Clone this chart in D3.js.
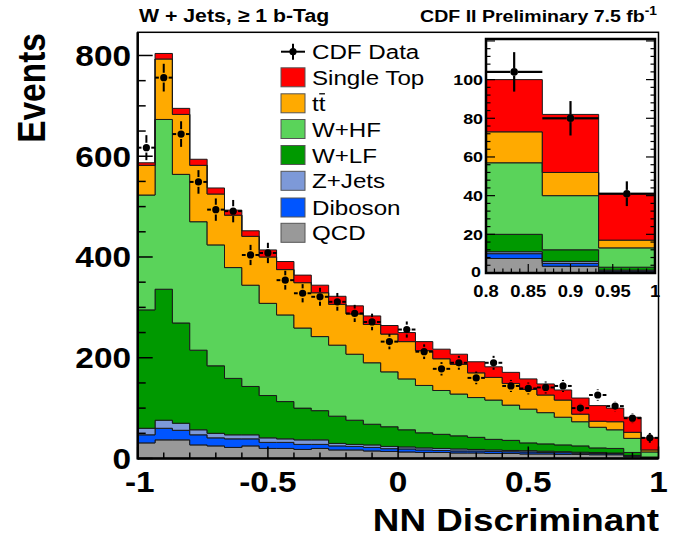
<!DOCTYPE html>
<html><head><meta charset="utf-8">
<script src="https://cdn.jsdelivr.net/npm/d3@7"></script>
<style>
body{margin:0;background:#fff}
svg{display:block}
text{font-family:"Liberation Sans",Arial,Helvetica,sans-serif;fill:#000}
</style>
</head><body>
<svg id="c" width="677" height="545"></svg>
<script>
// ---------------- data (events per bin, 30 bins from -1 to 1) ----------------
const qcd       = [31,37,37,27,25,22,25,20,20,18,20,17,17,15,14,13,12,12,11,11,10,10,9,9,8,8,7.5,7.5,3.5,0.5];
const diboson   = [16,23,19,20,16,17,14,12,12,10,8,8,7,7,5.5,6,5,4,4,4,4,3.5,4,3,3.5,2.5,2.5,2.5,1.5,0.5];
const zjets     = [13,16,14,10,9,8,8,9,7,9,9,5,4,5,4.5,4,4,4,4,3,3,2.5,2.5,2.5,2,2,2,1,1,0.5];
const wlf       = [235,260,199,158,134,112,96,84,74,63,58,54,48,41,39,34,30,28,26,24,21,20,15.5,14.5,13.5,12.5,9,9,6,1.5];
const whf       = [228,337,295,255,240,220,201,183,172,159,147,141,131,122,109,101,94,87,83,79,78,70,67,62,55,48,41,37,28,10];
const ttbar     = [59,120,119,112,101,104,97,92,90,90,87,81,80,76,75,74,69,63,59,49,45,43,39,35,34,15,12,16,12,4];
const singleTop = [5,11,12,12,12,10,11,14,16,15,15,16,16,17,17,18,18,19,20,22,21,22,21,22,20,32,31,27,30,24];
const dataCounts = [617,756,644,549,494,491,404,408,354,328,321,311,288,271,232,256,212,178,190,160,190,144,139,141,144,100,126,104,80,41];
const dataErrors = [24.8,27.5,25.4,23.4,22.2,22.2,20.1,20.2,18.8,18.1,17.9,17.6,17,16.5,15.2,16,14.6,13.3,13.8,12.6,13.8,12,11.8,11.9,12,10,11.2,10.2,8.9,6.4];

const legendLabels = ["CDF Data","Single Top","tt","W+HF","W+LF","Z+Jets","Diboson","QCD"];
const xTicksMain  = [-1,-0.5,0,0.5,1];
const xTickLabelsMain = ["-1","-0.5","0","0.5","1"];
const yTicksMain  = [0,200,400,600,800];
const xTicksInset = [0.8,0.85,0.9,0.95,1];
const xTickLabelsInset = ["0.8","0.85","0.9","0.95","1"];
const yTicksInset = [0,20,40,60,80,100];

// ---------------- setup ----------------
const svg = d3.select("#c");
const SX = 1.15; // horizontal text stretch
const keys = ["qcd","diboson","zjets","wlf","whf","ttbar","singleTop"];
const colors = {qcd:"#999999",diboson:"#0055ff",zjets:"#7d99d8",wlf:"#009900",whf:"#5ad35a",ttbar:"#ffaa00",singleTop:"#ff0000"};
const series = {qcd,diboson,zjets,wlf,whf,ttbar,singleTop};
const nBins = qcd.length, binW = 2/nBins;
const binLo = d3.range(nBins).map(i => -1 + i*binW);
const rows = binLo.map((lo,i) => { const r = {lo}; keys.forEach(k => r[k] = series[k][i]); return r; });
const stacked = d3.stack().keys(keys)(rows);

svg.append("rect").attr("width",677).attr("height",545).attr("fill","#fff");

function txt(g, x, y, s, size, anchor, weight, rot) {
  const t = g.append("text")
    .attr("transform", `translate(${x},${y}) scale(${SX},1)` + (rot ? ` rotate(${rot})` : ""))
    .attr("text-anchor", anchor).attr("font-size", size).attr("font-weight", weight).text(s);
  return t;
}

function drawStack(g, xs, ys, idxs) {
  stacked.forEach(layer => {
    const pts = idxs.map(i => ({x: binLo[i], y0: layer[i][0], y1: layer[i][1]}));
    const last = idxs[idxs.length-1];
    pts.push({x: binLo[last] + binW, y0: layer[last][0], y1: layer[last][1]});
    const area = d3.area().curve(d3.curveStepAfter)
      .x(d => xs(d.x)).y0(d => ys(d.y0)).y1(d => ys(d.y1));
    g.append("path").attr("d", area(pts)).attr("fill", colors[layer.key])
      .attr("stroke", "#1a1a1a").attr("stroke-width", 1);
  });
}

function drawData(g, xs, ys, idxs, r, gap, sw) {
  idxs.forEach(i => {
    const cx = xs(binLo[i] + binW/2), cy = ys(dataCounts[i]);
    const xl = xs(binLo[i]), xr = xs(binLo[i] + binW);
    const yt = ys(dataCounts[i] + dataErrors[i]), yb = ys(dataCounts[i] - dataErrors[i]);
    const segs = [[xl,cy,cx-r-gap,cy],[cx+r+gap,cy,xr,cy],[cx,yt,cx,cy-r-gap],[cx,cy+r+gap,cx,yb]];
    segs.forEach(s => g.append("line").attr("x1",s[0]).attr("y1",s[1]).attr("x2",s[2]).attr("y2",s[3])
      .attr("stroke","#000").attr("stroke-width",sw));
    g.append("circle").attr("cx",cx).attr("cy",cy).attr("r",r).attr("fill","#000");
  });
}

// ---------------- main plot ----------------
const M = {l:137.7, r:658.5, t:32.3, b:458.5};
const x = d3.scaleLinear().domain([-1,1]).range([M.l, M.r]);
const y = d3.scaleLinear().domain([0,846]).range([M.b, M.t]);
const gm = svg.append("g");
drawStack(gm, x, y, d3.range(nBins));
drawData(gm, x, y, d3.range(nBins), 3.6, 1.3, 2);

// frame
gm.append("rect").attr("x",M.l).attr("y",M.t).attr("width",M.r-M.l).attr("height",M.b-M.t)
  .attr("fill","none").attr("stroke","#000").attr("stroke-width",1.5);
gm.append("line").attr("x1",M.l).attr("x2",M.l).attr("y1",M.t).attr("y2",M.b+1).attr("stroke","#000").attr("stroke-width",2.5);
gm.append("line").attr("x1",M.l).attr("x2",M.r).attr("y1",M.b).attr("y2",M.b).attr("stroke","#000").attr("stroke-width",2.5);

// ticks
d3.range(0, 846, 50).forEach(v => {
  const major = v % 200 === 0;
  gm.append("line").attr("x1",M.l).attr("x2",M.l + (major?15:8)).attr("y1",y(v)).attr("y2",y(v))
    .attr("stroke","#000").attr("stroke-width",1.5);
});
d3.range(-1, 1.0001, 0.1).forEach(v => {
  const major = Math.abs(v*2 - Math.round(v*2)) < 1e-6;
  gm.append("line").attr("x1",x(v)).attr("x2",x(v)).attr("y1",M.b).attr("y2",M.b - (major?12:6))
    .attr("stroke","#000").attr("stroke-width",1.5);
});
yTicksMain.forEach(v => txt(gm, 131, y(v) + 10.5, String(v), 29, "end", "bold"));
xTicksMain.forEach((v,i) => txt(gm, x(v) + (i===0?2:0), 492, xTickLabelsMain[i], 29, "middle", "bold"));

// axis titles
txt(gm, 659, 531, "NN Discriminant", 32, "end", "bold");
svg.append("text").attr("transform", `translate(45,33) scale(${SX},1) rotate(-90)`)
  .attr("text-anchor","end").attr("font-size",33.5).attr("font-weight","bold").text("Events");

// header texts
txt(svg, 139, 22, "W + Jets, \u2265 1 b-Tag", 18.5, "start", "bold");
const hdr = svg.append("text").attr("transform", `translate(657,22) scale(${SX},1)`)
  .attr("text-anchor","end").attr("font-size",17).attr("font-weight","bold");
hdr.append("tspan").text("CDF II Preliminary 7.5 fb");
hdr.append("tspan").attr("dy",-7).attr("font-size",12).text("-1");

// ---------------- legend ----------------
const lg = svg.append("g");
const legY = [51.7,77.3,103.3,129,155,180.8,207.5,232.8];
const legKeys = [null,"singleTop","ttbar","whf","wlf","zjets","diboson","qcd"];
legendLabels.forEach((lab,i) => {
  const cy = legY[i];
  if (i === 0) {
    lg.append("line").attr("x1",281).attr("x2",305).attr("y1",cy).attr("y2",cy).attr("stroke","#000").attr("stroke-width",2);
    lg.append("line").attr("x1",293).attr("x2",293).attr("y1",cy-8).attr("y2",cy+8).attr("stroke","#000").attr("stroke-width",2);
    lg.append("circle").attr("cx",293).attr("cy",cy).attr("r",3.6).attr("fill","#000");
  } else {
    lg.append("rect").attr("x",281).attr("y",cy-9.5).attr("width",24).attr("height",19)
      .attr("fill",colors[legKeys[i]]).attr("stroke","#555").attr("stroke-width",1);
  }
  const t = txt(lg, 312, cy + 7.5, lab, 21, "start", "normal");
  if (lab === "tt") {
    const w1 = t.node().getSubStringLength(0,1) * SX;
    const w2 = t.node().getSubStringLength(1,1) * SX;
    lg.append("line").attr("x1",312 + w1 + 0.5).attr("x2",312 + w1 + w2 - 0.5)
      .attr("y1",cy - 9.5).attr("y2",cy - 9.5).attr("stroke","#000").attr("stroke-width",1.3);
  }
});

// ---------------- inset ----------------
const I = {l:486, r:655, t:39, b:273};
const xi = d3.scaleLinear().domain([0.8,1]).range([I.l, I.r]);
const yi = d3.scaleLinear().domain([0,121]).range([I.b, I.t]);
const gi = svg.append("g");
gi.append("rect").attr("x",I.l).attr("y",I.t).attr("width",I.r-I.l).attr("height",I.b-I.t).attr("fill","#fff");
const insetBins = d3.range(nBins).filter(i => binLo[i] > 0.79);
drawStack(gi, xi, yi, insetBins);
drawData(gi, xi, yi, insetBins, 3.8, 0, 2.2);
d3.range(0, 121, 4).forEach(v => {
  const major = v % 20 === 0, L = major ? 9 : 4.5;
  gi.append("line").attr("x1",I.l).attr("x2",I.l+L).attr("y1",yi(v)).attr("y2",yi(v)).attr("stroke","#000").attr("stroke-width",1.2);
  gi.append("line").attr("x1",I.r).attr("x2",I.r-L).attr("y1",yi(v)).attr("y2",yi(v)).attr("stroke","#000").attr("stroke-width",1.2);
});
d3.range(0, 21).forEach(k => {
  const v = 0.8 + k*0.01, major = k % 5 === 0, L = major ? 9 : 4.5;
  gi.append("line").attr("x1",xi(v)).attr("x2",xi(v)).attr("y1",I.b).attr("y2",I.b-L).attr("stroke","#000").attr("stroke-width",1.2);
});
gi.append("rect").attr("x",I.l).attr("y",I.t).attr("width",I.r-I.l).attr("height",I.b-I.t)
  .attr("fill","none").attr("stroke","#000").attr("stroke-width",2.5);
yTicksInset.forEach((v,i) => txt(gi, i===0 ? 481 : 483, yi(v) + (i===0 ? 3.5 : 5.5), String(v), 15.5, "end", "bold"));
xTicksInset.forEach((v,i) => txt(gi, xi(v), 297, xTickLabelsInset[i], 16, "middle", "bold"));
</script>
</body></html>
